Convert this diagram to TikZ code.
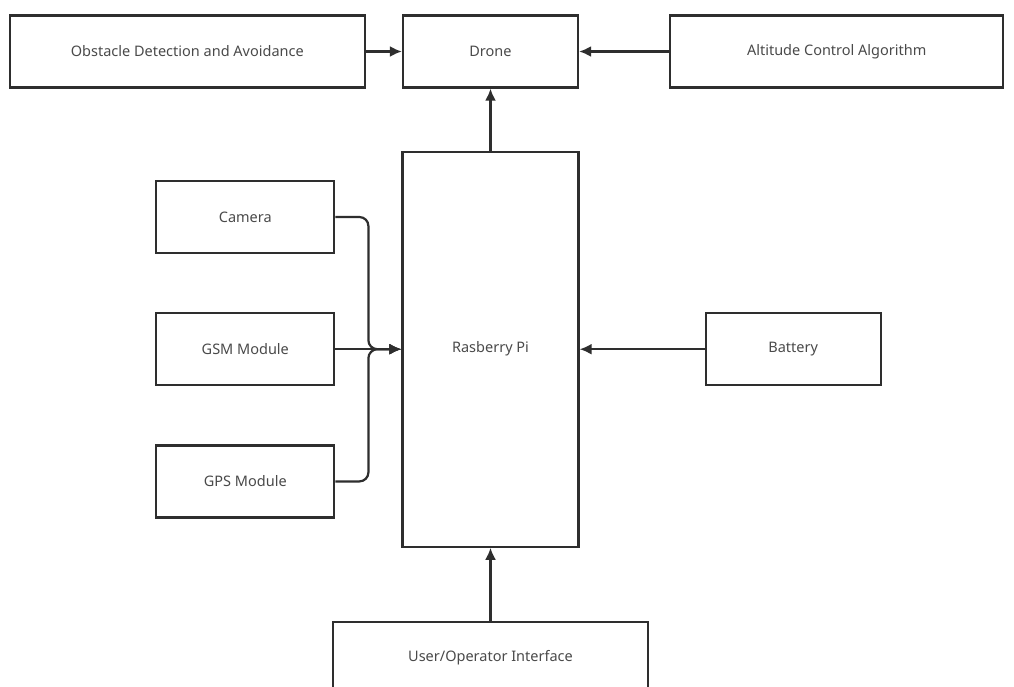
\documentclass[tikz,border=0pt]{standalone}
\usepackage{fontspec}
\setmainfont{Noto Sans}
\usepackage{tikz}
\usetikzlibrary{
  arrows.meta,
  positioning,
  calc
}

\definecolor{edgegray}{HTML}{2E2E2E}
\definecolor{textgray}{HTML}{4A4A4A}

\begin{document}
\begin{tikzpicture}[
  x=1pt,
  y=-1pt,
  node distance=58pt and 66pt,
  block/.style={
    draw=edgegray,
    line width=2.2pt,
    align=center,
    minimum width=175pt,
    minimum height=72pt,
    text=textgray,
    font=\fontsize{14.5}{17}\selectfont,
    fill=white
  },
  wideblock/.style={
    block,
    minimum width=333pt
  },
  arrow/.style={
    -{Latex[length=12pt,width=11pt]},
    draw=edgegray,
    line width=2.2pt
  },
  bus/.style={
    arrow,
    rounded corners=9pt
  }
]

\useasboundingbox[fill=white] (0,0) rectangle (1014,686);

\node[block] (drone) at (490.5,51.5) {Drone};
\node[wideblock,minimum width=355pt,left=36pt of drone] (obstacle)
  {Obstacle Detection and Avoidance};
\node[wideblock,right=90pt of drone] (altitude)
  {Altitude Control Algorithm};

\node[block,minimum width=176pt,minimum height=395pt,below=62pt of drone] (rpi)
  {Rasberry Pi};

% --- inputs on the left ---
\node[block,minimum width=178pt,left=66pt of rpi] (gsm) {GSM Module};
\node[block,minimum width=178pt,above=of gsm] (camera) {Camera};
\node[block,minimum width=178pt,below=of gsm] (gps) {GPS Module};

% --- inputs on the right and below ---
\node[block,right=125pt of rpi] (battery) {Battery};
\node[wideblock,minimum width=315pt,below=73pt of rpi] (user)
  {User/Operator Interface};

\coordinate (merge) at ($(gsm.east)!0.5!(rpi.west)$);

\draw[arrow] (obstacle) -- (drone);
\draw[arrow] (altitude) -- (drone);
\draw[arrow] (rpi) -- (drone);
\draw[arrow] (battery) -- (rpi);
\draw[arrow] (user) -- (rpi);

% camera and gps join the gsm line
\draw[arrow] (gsm.east) -- (rpi.west);
\draw[bus] (camera.east) -| (merge) -- (rpi.west);
\draw[bus] (gps.east) -| (merge) -- (rpi.west);

\end{tikzpicture}
\end{document}
